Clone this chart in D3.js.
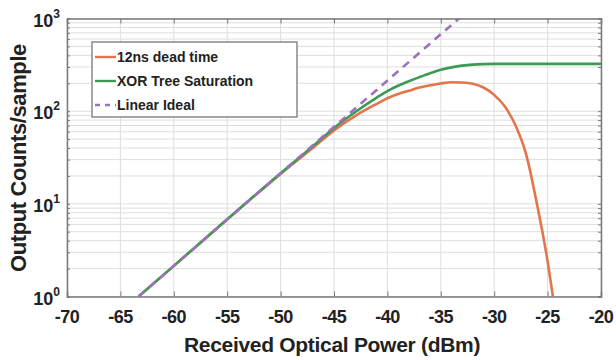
<!DOCTYPE html>
<html>
<head>
<meta charset="utf-8">
<script src="https://cdn.jsdelivr.net/npm/d3@7"></script>
<style>
  html, body { margin: 0; padding: 0; background: #fff; }
  svg { display: block; font-family: "Liberation Sans", Arial, sans-serif; }
</style>
</head>
<body>
<svg id="chart" width="616" height="360"></svg>
<script>
// ---- data ----
const xTicks = [-70, -65, -60, -55, -50, -45, -40, -35, -30, -25, -20];
const yTicks = [1, 10, 100, 1000];
const yTickExp = ["0", "1", "2", "3"];

const deadPower = [-63.3, -60, -55, -50, -47, -45, -43, -41, -40, -39, -38, -37, -36, -35, -34, -33, -32, -31, -30, -29, -28, -27, -26, -25, -24.5];
const deadCounts = [1, 2.14, 6.8, 21, 40, 62, 89, 120, 138, 153, 166, 180, 190, 199, 205, 204, 198, 180, 150, 112, 70, 34, 10, 2.4, 1];

const xorPower = [-63.3, -60, -55, -50, -47, -45, -43, -41, -40, -39, -38, -37, -36, -35, -34, -33, -32, -31, -30, -25, -20];
const xorCounts = [1, 2.14, 6.8, 21.4, 41.7, 66, 98, 140, 165, 188, 210, 233, 257, 280, 297, 310, 318, 322, 324, 324, 324];

const idealPower = [-63.3, -53.3, -43.3, -33.3, -31];
const idealCounts = [1, 10, 100, 1000, 1700];

const legendLabels = ["12ns dead time", "XOR Tree Saturation", "Linear Ideal"];
const colors = ["#e4744a", "#3d9a55", "#9a72c0"];

// ---- layout ----
const svg = d3.select("#chart");
const L = 67, R = 601, T = 18.5, B = 296.5;
const x = d3.scaleLinear().domain([-70, -20]).range([L, R]);
const y = d3.scaleLog().domain([1, 1000]).range([B, T]);

// grid
const minorY = y.ticks();
svg.append("g").selectAll("line").data(minorY).join("line")
  .attr("x1", L).attr("x2", R)
  .attr("y1", d => y(d)).attr("y2", d => y(d))
  .attr("stroke", "#dedede").attr("stroke-width", 1);
svg.append("g").selectAll("line").data(xTicks).join("line")
  .attr("y1", T).attr("y2", B)
  .attr("x1", d => x(d)).attr("x2", d => x(d))
  .attr("stroke", "#dedede").attr("stroke-width", 1);

// clip
svg.append("clipPath").attr("id", "clip").append("rect")
  .attr("x", L).attr("y", T).attr("width", R - L).attr("height", B - T);

const line = d3.line().x(d => x(d[0])).y(d => y(d[1])).curve(d3.curveMonotoneX);
const plot = svg.append("g").attr("clip-path", "url(#clip)");

plot.append("path").datum(deadPower.map((p, i) => [p, deadCounts[i]]))
  .attr("d", line).attr("fill", "none").attr("stroke", colors[0]).attr("stroke-width", 2.6);
plot.append("path").datum(xorPower.map((p, i) => [p, xorCounts[i]]))
  .attr("d", line).attr("fill", "none").attr("stroke", colors[1]).attr("stroke-width", 2.6);
plot.append("path").datum(idealPower.map((p, i) => [p, idealCounts[i]]))
  .attr("d", d3.line().x(d => x(d[0])).y(d => y(d[1])))
  .attr("fill", "none").attr("stroke", colors[2]).attr("stroke-width", 2.6)
  .attr("stroke-dasharray", "8,6");

// axes (ticks inward)
const axisColor = "#7a7a7a";
const axBottom = svg.append("g").attr("transform", `translate(0,${B})`)
  .call(d3.axisBottom(x).tickValues(xTicks).tickSize(-5).tickFormat(""));
const axTop = svg.append("g").attr("transform", `translate(0,${T})`)
  .call(d3.axisTop(x).tickValues(xTicks).tickSize(-5).tickFormat(""));
const axLeft = svg.append("g").attr("transform", `translate(${L},0)`)
  .call(d3.axisLeft(y).tickValues(minorY).tickSize(-3).tickFormat(""));
const axRight = svg.append("g").attr("transform", `translate(${R},0)`)
  .call(d3.axisRight(y).tickValues(minorY).tickSize(-3).tickFormat(""));
[axBottom, axTop, axLeft, axRight].forEach(g => {
  g.selectAll("path").attr("stroke", axisColor).attr("stroke-width", 1.5);
  g.selectAll("line").attr("stroke", axisColor).attr("stroke-width", 1);
});

// x tick labels
svg.append("g").selectAll("text").data(xTicks).join("text")
  .attr("x", d => x(d)).attr("y", B + 26)
  .attr("text-anchor", "middle")
  .attr("font-size", 18).attr("font-weight", "bold").attr("fill", "#222")
  .attr("letter-spacing", "-0.5")
  .text(d => d);

// y tick labels with superscripts
const yl = svg.append("g").selectAll("text").data(yTicks).join("text")
  .attr("x", 60).attr("y", d => y(d) + 8)
  .attr("text-anchor", "end")
  .attr("font-size", 18).attr("font-weight", "bold").attr("fill", "#222");
yl.append("tspan").text("10");
yl.append("tspan").attr("dy", -9).attr("font-size", 12).text((d, i) => yTickExp[i]);

// axis titles
svg.append("text")
  .attr("x", 332).attr("y", 352)
  .attr("text-anchor", "middle")
  .attr("font-size", 21).attr("font-weight", "bold").attr("fill", "#222")
  .attr("letter-spacing", "-0.3")
  .text("Received Optical Power (dBm)");
svg.append("text")
  .attr("transform", "translate(26,158) rotate(-90)")
  .attr("text-anchor", "middle")
  .attr("font-size", 22).attr("font-weight", "bold").attr("fill", "#222")
  .attr("letter-spacing", "-0.4")
  .text("Output Counts/sample");

// legend
const lg = svg.append("g");
lg.append("rect").attr("x", 92).attr("y", 42).attr("width", 205).attr("height", 75)
  .attr("fill", "#fff").attr("stroke", "#777").attr("stroke-width", 1.3);
const rows = lg.selectAll("g.row").data(legendLabels).join("g")
  .attr("transform", (d, i) => `translate(0,${57 + i * 24})`);
rows.append("line").attr("x1", 95).attr("x2", 116).attr("y1", 0).attr("y2", 0)
  .attr("stroke", (d, i) => colors[i]).attr("stroke-width", 2.4)
  .attr("stroke-dasharray", (d, i) => i === 2 ? "5,5" : null);
rows.append("text").attr("x", 117).attr("y", 5)
  .attr("font-size", 14).attr("font-weight", "bold").attr("fill", "#222")
  .text(d => d);
</script>
</body>
</html>
